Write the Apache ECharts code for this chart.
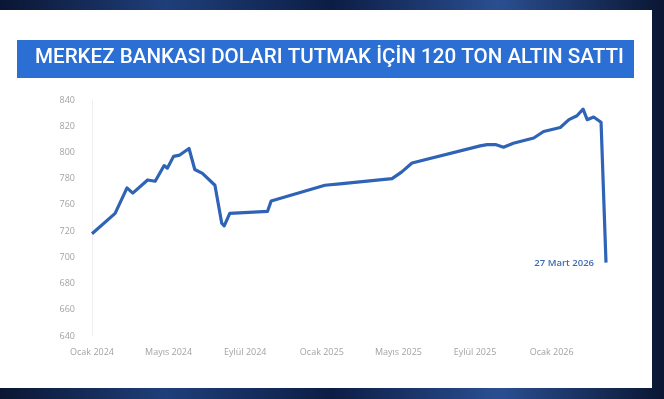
<!DOCTYPE html>
<html>
<head>
<meta charset="utf-8">
<script src="https://cdn.jsdelivr.net/npm/echarts@6/dist/echarts.min.js"></script>
<style>
  html, body { margin: 0; padding: 0; width: 664px; height: 399px; overflow: hidden; }
  body { background: linear-gradient(90deg, #0a1633 0%, #1f3f7a 25%, #0c1d45 50%, #2a4f91 75%, #0a1633 100%); position: relative; }
  #card { position: absolute; left: 0; top: 10px; width: 652px; height: 378px; background: #ffffff; }
  #chart { position: absolute; left: 0; top: 0; width: 664px; height: 399px; }
</style>
</head>
<body>
<div id="card"></div>
<div id="chart"></div>
<script>
// ---- Data ----
const titleText = 'MERKEZ BANKASI DOLARI TUTMAK İÇİN 120 TON ALTIN SATTI';
const dates = [
  '2024-01-01','2024-02-07','2024-02-25','2024-03-05','2024-03-29','2024-04-10',
  '2024-04-24','2024-04-29','2024-05-09','2024-05-19','2024-06-03','2024-06-12',
  '2024-06-24','2024-07-14','2024-07-25','2024-07-29','2024-08-07','2024-10-06',
  '2024-10-12','2025-01-06','2025-01-30','2025-04-21','2025-05-06','2025-05-23',
  '2025-09-09','2025-09-20','2025-10-03','2025-10-16','2025-11-01','2025-12-03',
  '2025-12-19','2026-01-15','2026-01-29','2026-02-10','2026-02-19','2026-02-25',
  '2026-03-07','2026-03-19','2026-03-27'
];
const reserves = [
  718, 747, 773, 769, 779, 778,
  790, 788, 797, 798, 803, 787,
  784, 775, 732, 728, 747, 750,
  763, 775, 776, 780, 785, 792,
  805, 806, 806, 804, 807, 811,
  816, 819, 825, 828, 833, 825,
  827, 823, 696
];
const xTickLabels = ['Ocak 2024','Mayıs 2024','Eylül 2024','Ocak 2025','Mayıs 2025','Eylül 2025','Ocak 2026'];
const yTickLabels = [640, 660, 680, 700, 720, 760, 780, 800, 820, 840];
const endLabelText = '27 Mart 2026';

// ---- helpers ----
function monthIndex(s) {
  const [y, m, d] = s.split('-').map(Number);
  const dim = new Date(y, m, 0).getDate();
  return (y - 2024) * 12 + (m - 1) + (d - 1) / dim;
}
// the printed y axis is evenly spaced through its tick labels
function tickPos(v) {
  const t = yTickLabels;
  for (let i = 0; i < t.length - 1; i++) {
    if (v <= t[i + 1]) return i + (v - t[i]) / (t[i + 1] - t[i]);
  }
  const n = t.length - 1;
  return n + (v - t[n]) / (t[n] - t[n - 1]);
}
const seriesData = dates.map((d, i) => [monthIndex(d), tickPos(reserves[i])]);

const chart = echarts.init(document.getElementById('chart'), null, { renderer: 'canvas' });
chart.setOption({
  backgroundColor: 'transparent',
  animation: false,
  graphic: [
    { type: 'rect', left: 17, top: 40, shape: { width: 617, height: 38 }, style: { fill: '#2b6fd5' } },
    { type: 'text', left: 35, top: 47, style: { text: titleText, fill: '#ffffff', font: '500 20.6px Roboto' } }
  ],
  grid: { left: 92, right: 58, top: 100, bottom: 63 },
  xAxis: {
    type: 'value',
    min: 0,
    max: monthIndex(dates[dates.length - 1]),
    interval: 4,
    axisLine: { show: false },
    axisTick: { show: false },
    splitLine: { show: false },
    axisLabel: {
      showMaxLabel: false,
      margin: 12,
      color: '#a3a3a3',
      fontFamily: 'Open Sans',
      fontSize: 9,
      formatter: v => (Number.isInteger(v / 4) && xTickLabels[v / 4]) ? xTickLabels[v / 4] : ''
    }
  },
  yAxis: {
    type: 'value',
    min: 0,
    max: yTickLabels.length - 1,
    interval: 1,
    axisLine: { show: true, lineStyle: { color: '#eeeeee', width: 1 } },
    axisTick: { show: false },
    splitLine: { show: false },
    axisLabel: {
      margin: 17,
      color: '#a3a3a3',
      fontFamily: 'Open Sans',
      fontSize: 9,
      formatter: v => String(yTickLabels[v])
    }
  },
  series: [{
    type: 'line',
    data: seriesData,
    symbol: 'none',
    lineStyle: { color: '#2f63b6', width: 3.2, join: 'round' },
    endLabel: {
      show: true,
      formatter: endLabelText,
      color: '#3c6bb3',
      fontFamily: 'Open Sans',
      fontWeight: 600,
      fontSize: 9.5,
      align: 'right',
      offset: [-20, 1]
    }
  }]
});
</script>
</body>
</html>
